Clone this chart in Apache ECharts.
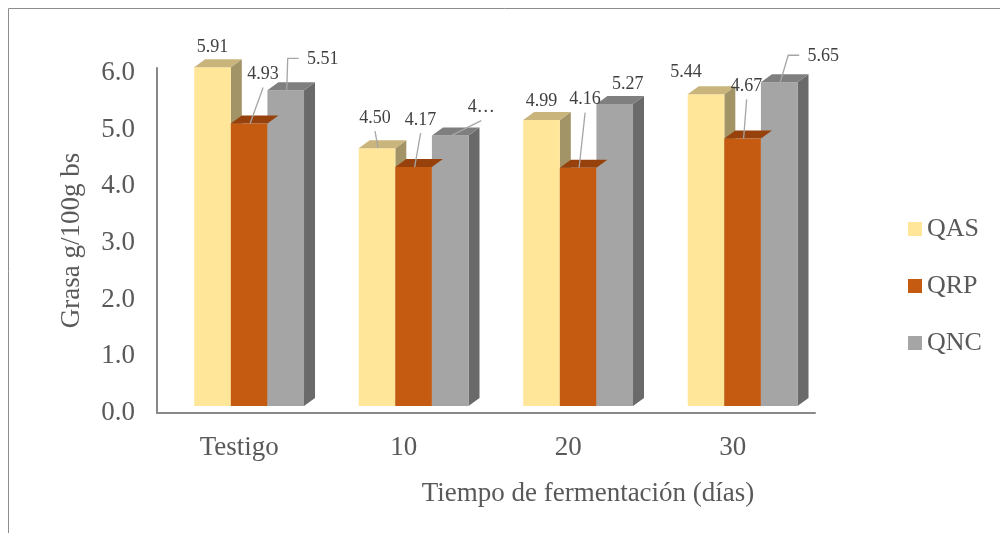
<!DOCTYPE html>
<html>
<head>
<meta charset="utf-8">
<script src="https://cdn.jsdelivr.net/npm/echarts@6/dist/echarts.min.js"></script>
<style>
  html, body { margin: 0; padding: 0; background: #ffffff; }
  #chart { width: 1000px; height: 533px; }
</style>
</head>
<body>
<div id="chart"></div>
<script>
// Fat content per fermentation time, three cheese treatments
const categories = ['Testigo', '10', '20', '30'];
const seriesNames = ['QAS', 'QRP', 'QNC'];
const qas = [5.91, 4.50, 4.99, 5.44];
const qrp = [4.93, 4.17, 4.16, 4.67];
const qnc = [5.51, 4.72, 5.27, 5.65];

// Face colours of each bar: front, top, side
const palettes = [
  { front: '#FFE699', top: '#C9B47B', side: '#A39468' },
  { front: '#C55A11', top: '#97420C', side: '#873A0A' },
  { front: '#A5A5A5', top: '#7F7F7F', side: '#6A6A6A' }
];

// Data-label placement relative to the bar's front-top centre:
// [dx, dy, leader (0 none, 1 straight, 2 elbow), max text width]
const labelPlacement = [
  [[0, -20, 0], [-2, -30, 1], [0, -19, 0], [-20, -22, 0]],
  [[14, -49, 1], [7, -47, 1], [7, -68, 1], [4, -52, 1]],
  [[37, -31, 2], [31, -28, 1, 30], [13, -20, 0], [44, -26, 2]]
];

const DX = 11, DY = -8;          // depth offset of the 3D faces
const FONT = 'Liberation Serif';
const LEADER = '#A6A6A6';

function renderBar(s) {
  return function (params, api) {
    const i = api.value(0);
    const v = api.value(1);
    const base = api.coord([i, 0]);
    const top = api.coord([i, v]);
    const band = api.size([1, 0])[0];
    const w = band * 0.2225;
    const x0 = base[0] + band * 0.06 - 1.5 * w + s * w;
    const yT = top[1], yB = base[1];
    const pal = palettes[s];
    const children = [
      { type: 'polygon', z2: 1,
        shape: { points: [[x0 + w, yT], [x0 + w + DX, yT + DY], [x0 + w + DX, yB + DY], [x0 + w, yB]] },
        style: { fill: pal.side } },
      { type: 'rect', z2: 2,
        shape: { x: x0, y: yT, width: w, height: yB - yT },
        style: { fill: pal.front } },
      { type: 'polygon', z2: 3,
        shape: { points: [[x0, yT], [x0 + DX, yT + DY], [x0 + w + DX, yT + DY], [x0 + w, yT]] },
        style: { fill: pal.top } }
    ];
    const p = labelPlacement[s][i];
    const cx = x0 + w / 2;
    const lx = cx + p[0], ly = yT + p[1];
    if (p[2] === 1) {
      children.push({ type: 'line', z2: 50,
        shape: { x1: lx, y1: ly + 13, x2: cx + 1, y2: yT },
        style: { stroke: LEADER, lineWidth: 1.3 } });
    } else if (p[2] === 2) {
      children.push({ type: 'polyline', z2: 50,
        shape: { points: [[lx - 24, ly - 1], [lx - 35, ly - 1], [cx + 1, yT]] },
        style: { stroke: LEADER, lineWidth: 1.3, fill: null } });
    }
    const textStyle = {
      text: v.toFixed(2), font: '18px "' + FONT + '"', fill: '#404040',
      align: 'center', verticalAlign: 'middle'
    };
    if (p[3]) {
      textStyle.width = p[3];
      textStyle.overflow = 'truncate';
      textStyle.ellipsis = '…';
    }
    children.push({ type: 'text', z2: 100, x: lx, y: ly, style: textStyle });
    return { type: 'group', children: children };
  };
}

const values = [qas, qrp, qnc];
const series = values.map(function (vals, s) {
  return {
    name: seriesNames[s],
    type: 'custom',
    xAxisIndex: 0,
    yAxisIndex: 1,
    clip: false,
    itemStyle: { color: palettes[s].front },
    renderItem: renderBar(s),
    encode: { x: 0, y: 1 },
    data: vals.map(function (v, i) { return [i, v]; })
  };
});

const chart = echarts.init(document.getElementById('chart'), null, { renderer: 'canvas' });
chart.setOption({
  animation: false,
  backgroundColor: '#ffffff',
  textStyle: { fontFamily: FONT },
  graphic: [
    { type: 'polyline', silent: true,
      shape: { points: [[8.5, 540], [8.5, 8.5], [1010, 8.5]] },
      style: { stroke: '#8C8C8C', lineWidth: 1, fill: null } }
  ],
  grid: { left: 157, right: 185, top: 68, bottom: 120 },
  legend: {
    orient: 'vertical',
    left: 908,
    top: 215,
    padding: 0,
    icon: 'rect',
    itemWidth: 14,
    itemHeight: 14,
    itemGap: 29,
    data: seriesNames,
    textStyle: { fontFamily: FONT, fontSize: 26, color: '#595959', lineHeight: 28 }
  },
  xAxis: {
    type: 'category',
    data: categories,
    boundaryGap: true,
    axisLine: { lineStyle: { color: '#898989', width: 2 } },
    axisTick: { show: false },
    axisLabel: { fontFamily: FONT, fontSize: 27, color: '#595959', margin: 21 },
    name: 'Tiempo de fermentación (días)',
    nameLocation: 'middle',
    nameGap: 67,
    nameTextStyle: { fontFamily: FONT, fontSize: 27, color: '#595959', padding: [0, 0, 0, 204] }
  },
  yAxis: [
    {
      type: 'value',
      min: 0,
      max: 6.088,
      interval: 1,
      splitLine: { show: false },
      axisTick: { show: false },
      axisLine: { show: true, lineStyle: { color: '#898989', width: 2 } },
      axisLabel: {
        fontFamily: FONT, fontSize: 27, color: '#595959', margin: 22,
        showMaxLabel: false,
        formatter: function (v) { return v.toFixed(1); }
      },
      name: 'Grasa g/100g bs',
      nameLocation: 'middle',
      nameGap: 72,
      nameTextStyle: { fontFamily: FONT, fontSize: 27, color: '#595959' }
    },
    {
      type: 'value',
      show: false,
      min: -0.1222,
      max: 5.899,
      splitLine: { show: false }
    }
  ],
  series: series
});
</script>
</body>
</html>
